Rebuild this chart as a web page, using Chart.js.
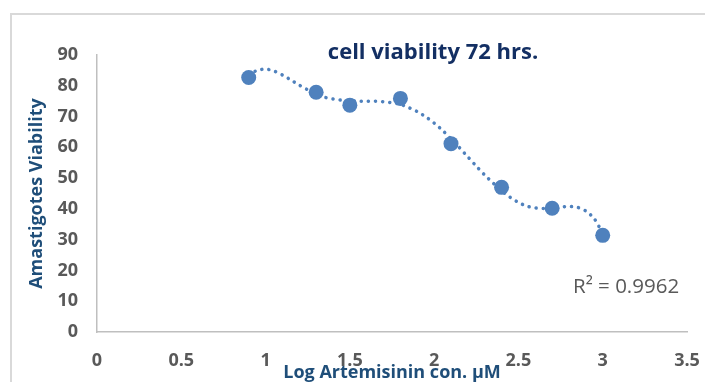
<!DOCTYPE html>
<html>
<head>
<meta charset="utf-8">
<script src="https://cdn.jsdelivr.net/npm/chart.js@4.4.1/dist/chart.umd.min.js"></script>
<style>
  html, body { margin: 0; padding: 0; background: #fff; overflow: hidden; }
  #wrap { position: relative; width: 705px; height: 382px; overflow: hidden; }
  #frame { position: absolute; left: 10px; top: 13px; width: 760px; height: 420px; border: 2px solid #d9d9d9; }
  #viabilityChart { position: absolute; left: 0; top: 0; }
</style>
</head>
<body>
<div id="wrap">
  <div id="frame"></div>
  <canvas id="viabilityChart" width="705" height="382"></canvas>
</div>
<script>
// measured points (log concentration vs viability)
const logConc = [0.9, 1.3, 1.5, 1.8, 2.1, 2.4, 2.7, 3.0];
const viability = [82.7, 77.9, 73.7, 75.9, 61.2, 47.0, 40.2, 31.4];

// polynomial trendline
const trendX = [0.9, 0.95, 1.0, 1.05, 1.1, 1.15, 1.2, 1.25, 1.3, 1.35, 1.4, 1.45, 1.5, 1.55, 1.6, 1.65, 1.7, 1.75, 1.8,
  1.85, 1.9, 1.95, 2.0, 2.05, 2.1, 2.15, 2.2, 2.25, 2.3, 2.35, 2.4, 2.45, 2.5, 2.55, 2.6, 2.65, 2.7, 2.75, 2.8, 2.85, 2.9, 2.95, 3.0];
const trendY = [83.6, 85.0, 85.4, 84.8, 83.5, 81.9, 80.2, 78.7, 77.5, 76.3, 75.7, 75.3, 75.1, 75.0, 75.0, 75.0, 74.8, 74.5, 74.0,
  72.9, 71.6, 69.9, 67.9, 65.5, 62.8, 59.9, 56.9, 53.9, 51.0, 48.4, 45.9, 43.8, 42.1, 40.9, 40.3, 40.1, 40.3, 40.6, 40.8, 40.5, 39.3, 36.8, 32.0];

const xTicks = [0, 0.5, 1, 1.5, 2, 2.5, 3, 3.5];
const yTicks = [0, 10, 20, 30, 40, 50, 60, 70, 80, 90];

const chartTitle = 'cell viability 72 hrs.';
const xTitle = 'Log Artemisinin con. µM';
const yTitle = 'Amastigotes Viability';
const r2Label = 'R² = 0.9962';

const blue = '#4f81bd';
const tickFont = { family: '"Open Sans", sans-serif', size: 18, weight: 'bold' };
const axisTitleFont = { family: '"Open Sans", sans-serif', size: 18, weight: 'bold', lineHeight: 1 };

// chart title and R² label sit inside the plot area
const textPlugin = {
  id: 'innerText',
  afterDraw(chart) {
    const ctx = chart.ctx;
    const area = chart.chartArea;
    ctx.save();
    ctx.fillStyle = '#132f63';
    ctx.font = 'bold 22px "Open Sans", sans-serif';
    ctx.textAlign = 'center';
    ctx.textBaseline = 'alphabetic';
    ctx.fillText(chartTitle, area.left + 336, area.top + 4);

    ctx.fillStyle = '#595959';
    ctx.font = '20.5px "Open Sans", sans-serif';
    ctx.textAlign = 'left';
    ctx.fillText(r2Label, area.left + 476, area.top + 238);
    ctx.restore();
  }
};

const ctx = document.getElementById('viabilityChart').getContext('2d');

new Chart(ctx, {
  type: 'scatter',
  data: {
    datasets: [
      {
        label: 'Viability',
        data: logConc.map((x, i) => ({ x: x, y: viability[i] })),
        backgroundColor: blue,
        borderColor: blue,
        borderWidth: 0,
        pointRadius: 7.5
      },
      {
        label: 'Trend',
        data: trendX.map((x, i) => ({ x: x, y: trendY[i] })),
        showLine: true,
        borderColor: blue,
        borderWidth: 3.5,
        borderDash: [0.1, 7],
        borderCapStyle: 'round',
        tension: 0.3,
        pointRadius: 0,
        fill: false
      }
    ]
  },
  options: {
    responsive: false,
    animation: false,
    events: [],
    layout: { padding: { top: 55, right: 18, bottom: 0, left: 0 } },
    plugins: {
      legend: { display: false },
      tooltip: { enabled: false },
      title: { display: false }
    },
    scales: {
      x: {
        type: 'linear',
        min: 0,
        max: 3.5,
        afterBuildTicks: s => { s.ticks = xTicks.map(v => ({ value: v })); },
        afterFit: s => { s.height = 50; s.paddingLeft = 8; s.paddingRight = 8; },
        grid: { display: false, drawTicks: false },
        border: { display: true, color: '#bfbfbf', width: 1.5 },
        ticks: { padding: 18, color: '#595959', font: tickFont, maxRotation: 0, callback: v => String(v) },
        title: { display: true, text: xTitle, color: '#1f4e79', font: axisTitleFont, padding: { top: 0, bottom: 0 } }
      },
      y: {
        type: 'linear',
        min: 0,
        max: 90,
        afterBuildTicks: s => { s.ticks = yTicks.map(v => ({ value: v })); },
        afterFit: s => { s.width = 97; s.paddingTop = 8; s.paddingBottom = 8; },
        grid: { display: false, drawTicks: false },
        border: { display: true, color: '#bfbfbf', width: 1.5 },
        ticks: { padding: 19, color: '#595959', font: tickFont, callback: v => String(v) },
        title: { display: true, text: yTitle, color: '#1f4e79', font: axisTitleFont, padding: { top: 28, bottom: 0 } }
      }
    }
  },
  plugins: [textPlugin]
});
</script>
</body>
</html>
